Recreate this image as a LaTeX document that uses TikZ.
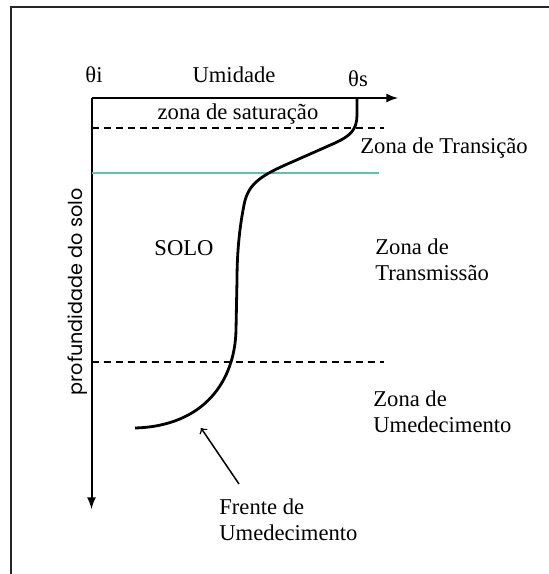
\documentclass[tikz,border=0pt]{standalone}
\usepackage{fontspec}
\setmainfont{Liberation Serif}
\newfontfamily\gothic{Poppins}
\usetikzlibrary{arrows,positioning}
\definecolor{aqua}{RGB}{88,198,172}

\begin{document}
\begin{tikzpicture}[x=0.5pt, y=-0.5pt, -, 
                    label/.style = {inner sep=0pt, font=\fontsize{11.3}{13}\selectfont},
                    zone/.style = {label, anchor=west, align=left},
                    axis/.style = {line width=1pt, -latex},
                    level/.style = {line width=0.75pt, dash pattern=on 3.5pt off 2.5pt},
                    curve/.style = {line width=1.4pt}]
\useasboundingbox (0,0) rectangle (548,574);
\draw[line width=1pt, black!85] (10.5,600) |- (600,7);
    \coordinate (o) at (91.5,98);
\coordinate (xend) at (398,98);
\coordinate (yend) at (91.5,509);
\draw[axis] (o) -- (xend);
\draw[axis] (o) -- (yend);
\node[label] (ti) at (94,75) {θi};
\node[label] (umid) at (234,75) {Umidade};
\node[label] (ts) at (358,79) {θs};
\node[label] (sat) at (238,114) {zona de saturação};
\node[label] (solo) at (184,248) {SOLO};
\node[zone] (trans) at (360,148) {Zona de Transição};
\node[zone] (transm) at (375,260) {Zona de\\Transmissão};
\node[zone] (umed) at (373,412) {Zona de\\Umedecimento};
\node[zone] (frente) at (219,520) {Frente de\\Umedecimento};
\node[inner sep=0pt, rotate=90, font=\gothic\fontsize{9.6}{11}\selectfont] (prof) at (78,292) {profundidade do solo};
    \draw[level] (o |- 0,128) -- (384,128);
\draw[line width=1pt, aqua] (o |- 0,173) -- (379,173);
\draw[level] (o |- 0,362) -- (384,362);
\draw[curve] (357,98) -- (357,115)
   .. controls (357,130) and (350,136) .. (335,143)
   -- (292,162)
   .. controls (262,175) and (248,183) .. (244,205)
   .. controls (240,225) and (237,250) .. (237,280)
   -- (236,330)
   .. controls (235,380) and (205,426) .. (135,428);
\coordinate (tail) at (239,484);
\coordinate (tip) at (201,428);
\draw[line width=0.75pt, ->] (tail) -- (tip);
\end{tikzpicture}
\end{document}
